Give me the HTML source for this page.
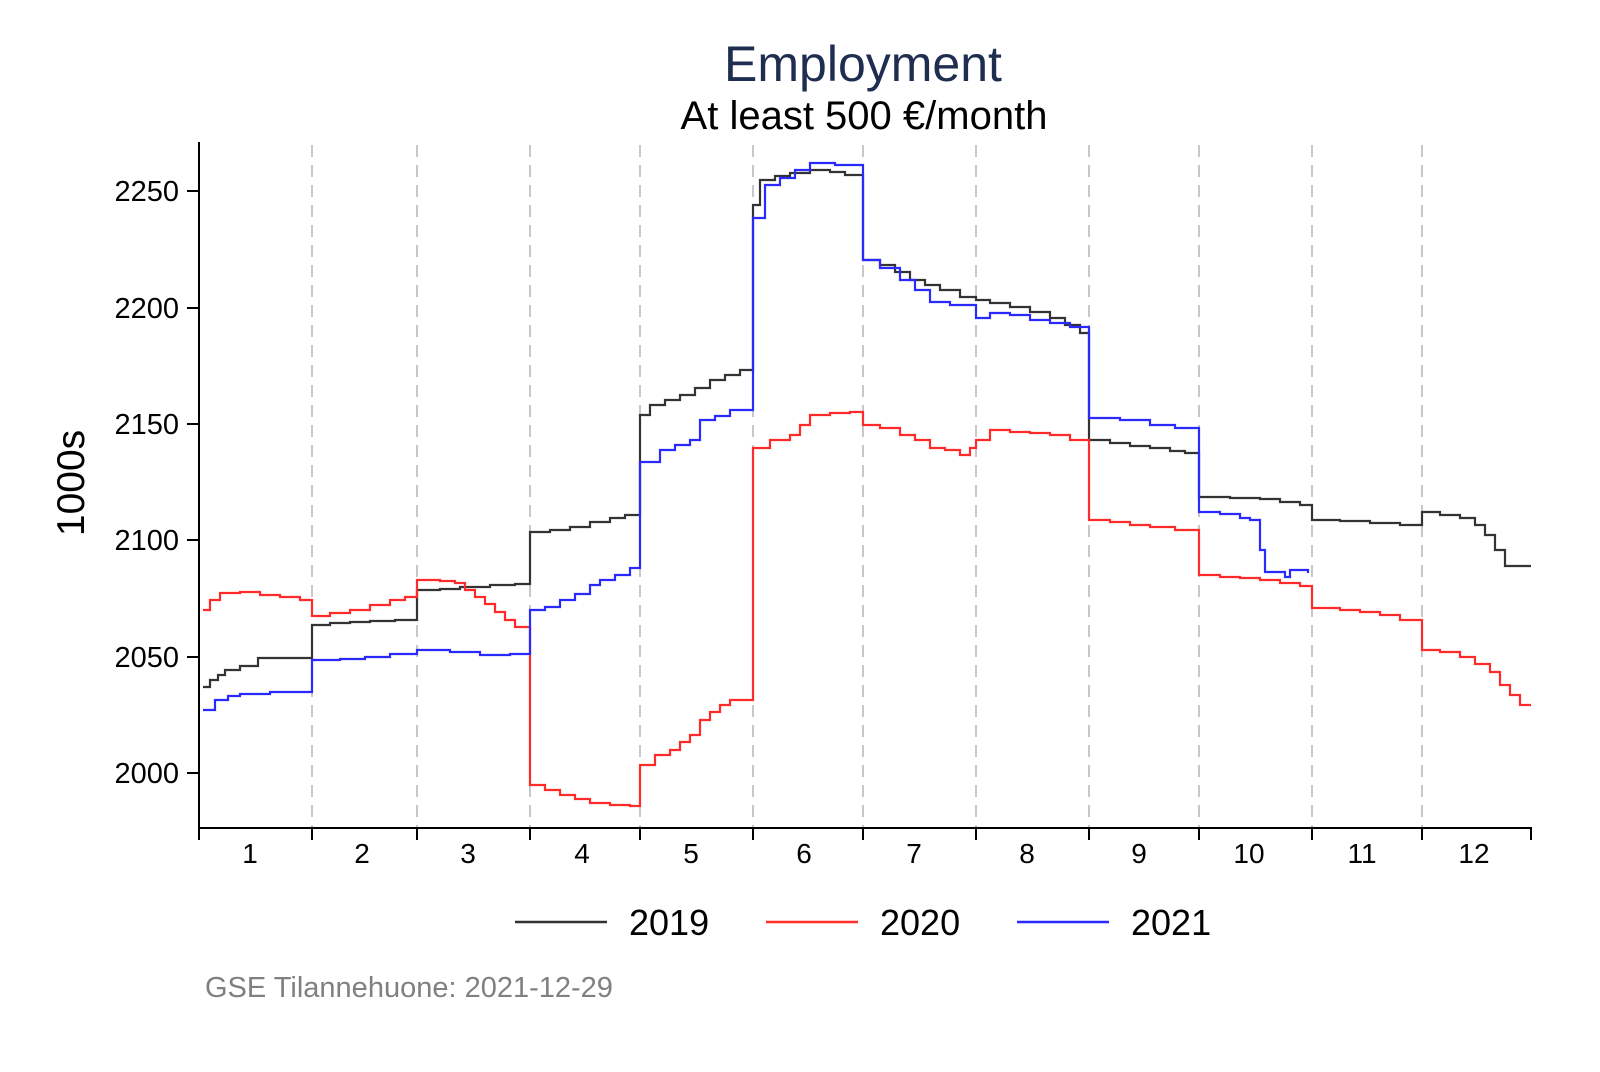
<!DOCTYPE html>
<html><head><meta charset="utf-8"><style>
html,body{margin:0;padding:0;background:#fff;}
svg text{font-family:"Liberation Sans",Arial,sans-serif;}
</style></head><body>
<svg width="1600" height="1067" viewBox="0 0 1600 1067" xmlns="http://www.w3.org/2000/svg">
<rect width="1600" height="1067" fill="#fff"/>
<text x="863" y="81" font-size="50" fill="#1f2d50" text-anchor="middle">Employment</text>
<text x="864" y="129" font-size="40" fill="#000" text-anchor="middle">At least 500 €/month</text>
<text transform="translate(84,483) rotate(-90)" font-size="39" text-anchor="middle">1000s</text>
<g stroke="#c8c8c8" stroke-width="2" stroke-dasharray="12 8">
<line x1="312" y1="145" x2="312" y2="828"/><line x1="417" y1="145" x2="417" y2="828"/>
<line x1="530" y1="145" x2="530" y2="828"/><line x1="640" y1="145" x2="640" y2="828"/>
<line x1="753" y1="145" x2="753" y2="828"/><line x1="863" y1="145" x2="863" y2="828"/>
<line x1="976" y1="145" x2="976" y2="828"/><line x1="1089" y1="145" x2="1089" y2="828"/>
<line x1="1199" y1="145" x2="1199" y2="828"/><line x1="1312" y1="145" x2="1312" y2="828"/>
<line x1="1422" y1="145" x2="1422" y2="828"/>
</g>
<g stroke="#000" stroke-width="2">
<line x1="199" y1="142" x2="199" y2="829"/>
<line x1="198" y1="828" x2="1532" y2="828"/>
<line x1="187" y1="191" x2="199" y2="191"/><line x1="187" y1="308" x2="199" y2="308"/>
<line x1="187" y1="424" x2="199" y2="424"/><line x1="187" y1="540" x2="199" y2="540"/>
<line x1="187" y1="657" x2="199" y2="657"/><line x1="187" y1="773" x2="199" y2="773"/>
<path d="M199,828V840M312,828V840M417,828V840M530,828V840M640,828V840M753,828V840M863,828V840M976,828V840M1089,828V840M1199,828V840M1312,828V840M1422,828V840M1531,828V840"/>
</g>
<g font-size="29" text-anchor="end">
<text x="179" y="201">2250</text><text x="179" y="318">2200</text><text x="179" y="434">2150</text>
<text x="179" y="550">2100</text><text x="179" y="667">2050</text><text x="179" y="783">2000</text>
</g>
<g font-size="28" text-anchor="middle">
<text x="250" y="863">1</text><text x="362" y="863">2</text><text x="468" y="863">3</text>
<text x="582" y="863">4</text><text x="691" y="863">5</text><text x="804" y="863">6</text>
<text x="914" y="863">7</text><text x="1027" y="863">8</text><text x="1139" y="863">9</text>
<text x="1249" y="863">10</text><text x="1362" y="863">11</text><text x="1474" y="863">12</text>
</g>
<g fill="none" stroke-width="2.2">
<path stroke="#333" d="M203,687 H210 V680 H218 V675 H225 V670 H240 V666 H258 V658 H312 V625 H330 V623 H350 V622 H370 V621 H395 V620 H417 V590 H440 V589 H460 V587 H490 V585 H515 V584 H530 V532 H550 V530 H570 V527 H590 V522 H610 V518 H625 V515 H640 V415 H650 V405 H665 V400 H680 V395 H695 V388 H710 V380 H725 V375 H740 V370 H753 V205 H760 V180 H775 V176 H790 V173 H810 V170 H830 V172 H845 V175 H863 V260 H880 V265 H895 V272 H910 V280 H925 V285 H940 V290 H960 V297 H976 V300 H990 V303 H1010 V307 H1030 V312 H1050 V318 H1065 V325 H1080 V333 H1089 V440 H1110 V443 H1130 V446 H1150 V448 H1170 V451 H1185 V453 H1199 V497 H1230 V498 H1260 V499 H1280 V502 H1300 V505 H1312 V520 H1340 V521 H1370 V523 H1400 V525 H1422 V512 H1440 V515 H1460 V518 H1475 V525 H1485 V535 H1495 V550 H1505 V566 H1531"/>
<path stroke="#ff2a2a" d="M203,610 H210 V600 H220 V593 H240 V592 H260 V595 H280 V597 H300 V600 H312 V616 H330 V613 H350 V610 H370 V605 H390 V600 H405 V597 H417 V580 H440 V581 H455 V583 H465 V590 H475 V597 H485 V604 H495 V612 H505 V620 H515 V627 H530 V785 H545 V790 H560 V795 H575 V799 H590 V803 H610 V805 H630 V806 H640 V765 H655 V755 H670 V750 H680 V742 H690 V735 H700 V720 H710 V712 H720 V705 H730 V700 H753 V448 H770 V440 H790 V435 H800 V425 H810 V415 H830 V413 H850 V412 H863 V425 H880 V428 H900 V435 H915 V440 H930 V448 H945 V450 H960 V455 H970 V448 H976 V440 H990 V430 H1010 V432 H1030 V433 H1050 V435 H1070 V440 H1089 V520 H1110 V522 H1130 V525 H1150 V527 H1175 V530 H1199 V575 H1220 V577 H1240 V578 H1260 V580 H1280 V583 H1300 V586 H1312 V608 H1340 V610 H1360 V612 H1380 V615 H1400 V620 H1422 V650 H1440 V652 H1460 V657 H1475 V664 H1490 V672 H1500 V685 H1510 V695 H1520 V705 H1531"/>
<path stroke="#2a2aff" d="M203,710 H215 V700 H228 V696 H240 V694 H270 V692 H312 V690 V660 H340 V659 H365 V657 H390 V654 H417 V650 H450 V652 H480 V655 H510 V654 H530 V652 V610 H545 V607 H560 V600 H575 V594 H590 V585 H600 V580 H615 V575 H630 V568 H640 V565 V462 H660 V450 H675 V445 H690 V440 H700 V420 H715 V416 H730 V410 H753 V395 V218 H765 V185 H780 V178 H795 V170 H810 V163 H835 V165 H863 V168 V260 H880 V268 H900 V280 H915 V290 H930 V302 H950 V305 H976 V318 H990 V313 H1010 V315 H1030 V320 H1050 V323 H1070 V327 H1089 V330 V418 H1120 V420 H1150 V425 H1175 V428 H1199 V430 V512 H1220 V514 H1240 V518 H1250 V520 H1260 V550 H1265 V572 H1285 V577 H1290 V570 H1308 V573"/>
</g>
<line x1="515" y1="922" x2="607" y2="922" stroke="#333" stroke-width="2.5"/>
<line x1="766" y1="922" x2="858" y2="922" stroke="#ff2a2a" stroke-width="2.5"/>
<line x1="1017" y1="922" x2="1109" y2="922" stroke="#2a2aff" stroke-width="2.5"/>
<g font-size="36"><text x="629" y="935">2019</text><text x="880" y="935">2020</text><text x="1131" y="935">2021</text></g>
<text x="205" y="997" font-size="29" fill="#808080">GSE Tilannehuone: 2021-12-29</text>
</svg>
</body></html>
